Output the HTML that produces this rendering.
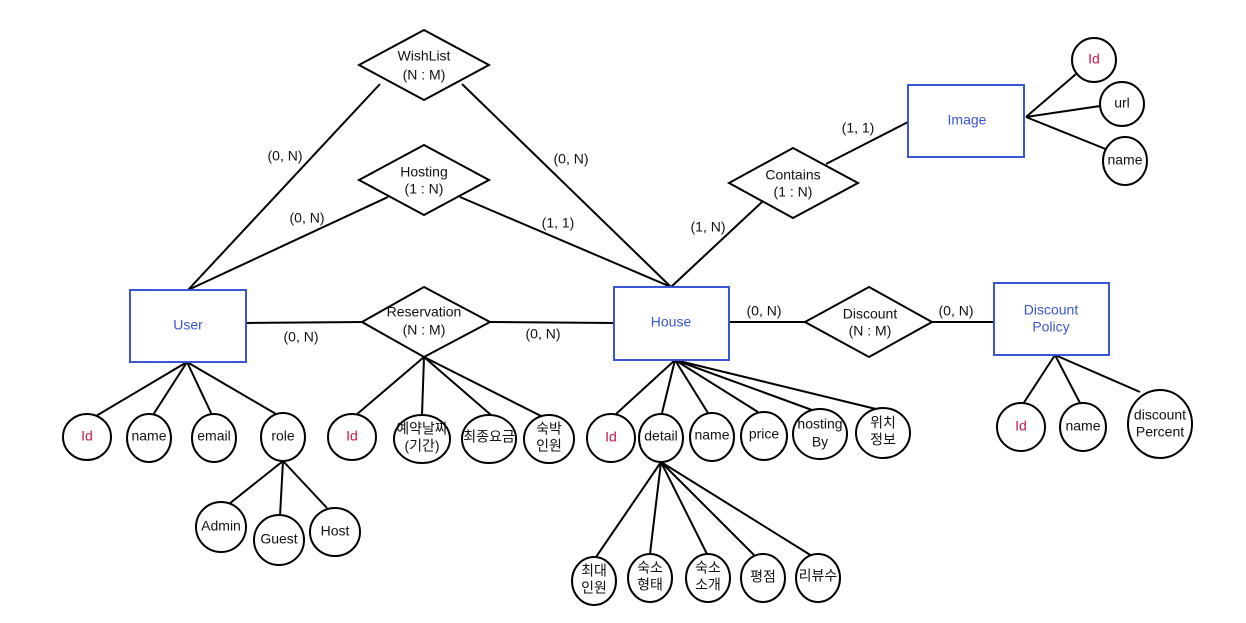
<!DOCTYPE html>
<html><head><meta charset="utf-8"><style>
html,body{margin:0;padding:0;background:#fff}
svg{display:block}
text{font-family:"Liberation Sans","Noto Sans CJK KR",sans-serif;font-size:14px;fill:#111;text-anchor:middle;dominant-baseline:middle}
.b{fill:#3a55d6}.r{fill:#c8174a}
</style></head><body>
<svg width="1246" height="623" viewBox="0 0 1246 623" xmlns="http://www.w3.org/2000/svg">
<g stroke="#000" stroke-width="2" fill="none">
<line x1="380" y1="84" x2="188" y2="290"/>
<line x1="462" y1="84" x2="671" y2="287"/>
<line x1="388" y1="197" x2="188" y2="290"/>
<line x1="460" y1="197" x2="671" y2="287"/>
<line x1="762" y1="202" x2="671" y2="287"/>
<line x1="826" y1="164" x2="908" y2="122"/>
<line x1="246" y1="323" x2="364" y2="322"/>
<line x1="490" y1="322" x2="614" y2="323"/>
<line x1="729" y1="322" x2="805" y2="322"/>
<line x1="932" y1="322" x2="994" y2="322"/>
<line x1="1026" y1="117" x2="1076" y2="74"/>
<line x1="1026" y1="117" x2="1100" y2="106"/>
<line x1="1026" y1="117" x2="1108" y2="150"/>
<!-- user attrs -->
<line x1="187" y1="362" x2="96" y2="416"/>
<line x1="187" y1="362" x2="153" y2="415"/>
<line x1="187" y1="362" x2="212" y2="415"/>
<line x1="187" y1="362" x2="276" y2="414"/>
<line x1="283" y1="461" x2="229" y2="504"/>
<line x1="283" y1="461" x2="280" y2="516"/>
<line x1="283" y1="461" x2="327" y2="508"/>
<!-- reservation attrs -->
<line x1="424" y1="357" x2="356" y2="415"/>
<line x1="424" y1="357" x2="422" y2="415"/>
<line x1="424" y1="357" x2="491" y2="415"/>
<line x1="424" y1="357" x2="541" y2="416"/>
<!-- house attrs -->
<line x1="675" y1="360" x2="616" y2="414"/>
<line x1="675" y1="360" x2="662" y2="413"/>
<line x1="675" y1="360" x2="708" y2="413"/>
<line x1="675" y1="360" x2="758" y2="412"/>
<line x1="675" y1="360" x2="812" y2="410"/>
<line x1="675" y1="360" x2="876" y2="409"/>
<!-- detail attrs -->
<line x1="661" y1="462" x2="596" y2="557"/>
<line x1="661" y1="462" x2="650" y2="554"/>
<line x1="661" y1="462" x2="707" y2="554"/>
<line x1="661" y1="462" x2="754" y2="555"/>
<line x1="661" y1="462" x2="812" y2="556"/>
<!-- discount policy attrs -->
<line x1="1055" y1="355" x2="1023" y2="404"/>
<line x1="1055" y1="355" x2="1080" y2="403"/>
<line x1="1055" y1="355" x2="1140" y2="392"/>
</g>
<g stroke="#000" stroke-width="2" fill="#fff">
<polygon points="424,30 489,65 424,100 359,65"/>
<polygon points="424,145 489,180 424,215 359,180"/>
<polygon points="424,287 490,322 424,357 362,322"/>
<polygon points="869,287 932,322 869,357 805,322"/>
<polygon points="793,148 858,183 793,218 729,183"/>
</g>
<g stroke="#3a55d6" stroke-width="2" fill="#fff">
<rect x="130" y="290" width="116" height="72"/>
<rect x="614" y="287" width="115" height="73"/>
<rect x="994" y="283" width="115" height="72"/>
<rect x="908" y="85" width="116" height="72"/>
</g>
<g stroke="#000" stroke-width="2" fill="#fff">
<ellipse cx="1094" cy="60" rx="22" ry="22"/>
<ellipse cx="1122" cy="104" rx="22" ry="22"/>
<ellipse cx="1125" cy="161" rx="22" ry="24"/>
<ellipse cx="87" cy="437" rx="24" ry="23"/>
<ellipse cx="149" cy="438" rx="22" ry="24"/>
<ellipse cx="214" cy="438" rx="22" ry="24"/>
<ellipse cx="283" cy="437" rx="22" ry="24"/>
<ellipse cx="221" cy="527" rx="25" ry="25"/>
<ellipse cx="279" cy="540" rx="25" ry="25"/>
<ellipse cx="335" cy="532" rx="25" ry="24"/>
<ellipse cx="352" cy="437" rx="24" ry="23"/>
<ellipse cx="422" cy="439" rx="28" ry="24"/>
<ellipse cx="489" cy="439" rx="27" ry="24"/>
<ellipse cx="549" cy="439" rx="25" ry="24"/>
<ellipse cx="611" cy="438" rx="24" ry="24"/>
<ellipse cx="661" cy="438" rx="22" ry="24"/>
<ellipse cx="712" cy="437" rx="22" ry="24"/>
<ellipse cx="764" cy="436" rx="23" ry="24"/>
<ellipse cx="820" cy="434" rx="27" ry="25"/>
<ellipse cx="883" cy="433" rx="27" ry="25"/>
<ellipse cx="594" cy="581" rx="22" ry="24"/>
<ellipse cx="650" cy="578" rx="22" ry="24"/>
<ellipse cx="708" cy="578" rx="22" ry="24"/>
<ellipse cx="763" cy="578" rx="22" ry="24"/>
<ellipse cx="818" cy="578" rx="22" ry="24"/>
<ellipse cx="1021" cy="427" rx="24" ry="24"/>
<ellipse cx="1083" cy="427" rx="23" ry="24"/>
<ellipse cx="1160" cy="424" rx="32" ry="34"/>
</g>
<text x="424" y="57">WishList</text><text x="424" y="76">(N : M)</text>
<text x="424" y="173">Hosting</text><text x="424" y="190">(1 : N)</text>
<text x="424" y="313">Reservation</text><text x="424" y="331">(N : M)</text>
<text x="870" y="315">Discount</text><text x="870" y="332">(N : M)</text>
<text x="793" y="176">Contains</text><text x="793" y="193">(1 : N)</text>
<text class="b" x="188" y="326">User</text>
<text class="b" x="671" y="323">House</text>
<text class="b" x="1051" y="311">Discount</text><text class="b" x="1051" y="328">Policy</text>
<text class="b" x="967" y="121">Image</text>
<text class="r" x="1094" y="60">Id</text>
<text x="1122" y="104">url</text>
<text x="1125" y="161">name</text>
<text class="r" x="87" y="437">Id</text>
<text x="149" y="437">name</text>
<text x="214" y="437">email</text>
<text x="283" y="437">role</text>
<text x="221" y="527">Admin</text>
<text x="279" y="540">Guest</text>
<text x="335" y="532">Host</text>
<text class="r" x="352" y="437">Id</text>
<text x="422" y="430">예약날짜</text><text x="422" y="447">(기간)</text>
<text x="489" y="438">최종요금</text>
<text x="549" y="430">숙박</text><text x="549" y="447">인원</text>
<text class="r" x="611" y="438">Id</text>
<text x="661" y="437">detail</text>
<text x="712" y="436">name</text>
<text x="764" y="435">price</text>
<text x="820" y="425">hosting</text><text x="820" y="443">By</text>
<text x="883" y="424">위치</text><text x="883" y="441">정보</text>
<text x="594" y="572">최대</text><text x="594" y="589">인원</text>
<text x="650" y="569">숙소</text><text x="650" y="586">형태</text>
<text x="708" y="569">숙소</text><text x="708" y="586">소개</text>
<text x="763" y="578">평점</text>
<text x="818" y="577">리뷰수</text>
<text class="r" x="1021" y="427">Id</text>
<text x="1083" y="427">name</text>
<text x="1160" y="416">discount</text><text x="1160" y="433">Percent</text>
<text x="285" y="157">(0, N)</text>
<text x="307" y="219">(0, N)</text>
<text x="571" y="160">(0, N)</text>
<text x="558" y="224">(1, 1)</text>
<text x="708" y="228">(1, N)</text>
<text x="858" y="129">(1, 1)</text>
<text x="301" y="338">(0, N)</text>
<text x="543" y="335">(0, N)</text>
<text x="764" y="312">(0, N)</text>
<text x="956" y="312">(0, N)</text>
</svg>
</body></html>
